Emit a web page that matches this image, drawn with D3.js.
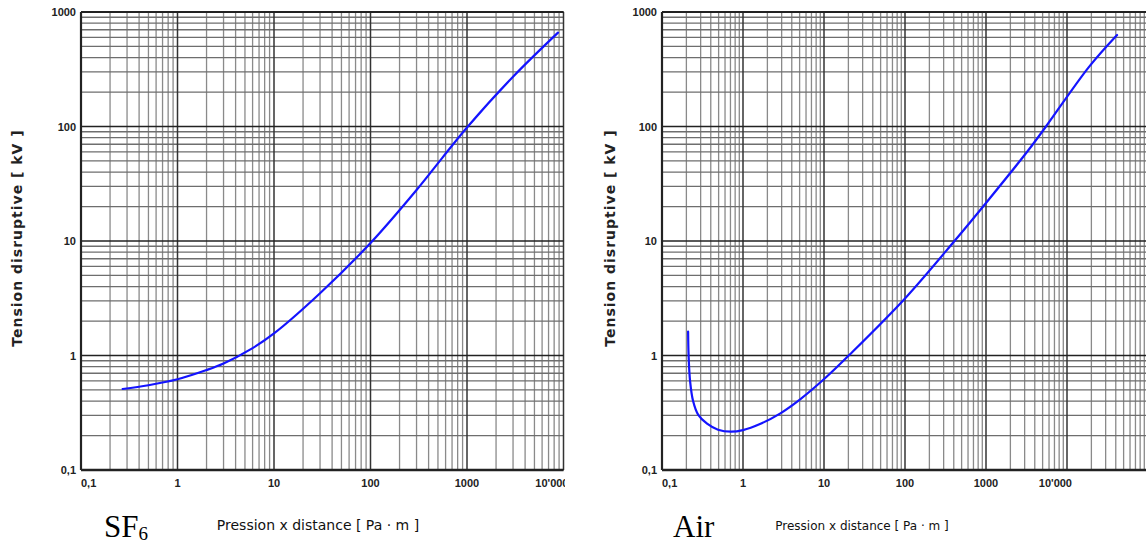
<!DOCTYPE html>
<html>
<head>
<meta charset="utf-8">
<script src="https://cdn.jsdelivr.net/npm/d3@7"></script>
<style>
  body { margin: 0; background: #fff; }
  svg { display: block; }
</style>
</head>
<body>
<div id="chart"></div>
<script>
// Paschen curves (x: Pa·m, y: kV)
const sf6X = [0.27, 0.5, 1, 2, 3, 5.7, 10, 30, 100, 300, 552, 1000, 3000, 8770];
const sf6V = [0.51, 0.55, 0.62, 0.746, 0.851, 1.13, 1.56, 3.5, 9.6, 27.9, 53, 98, 272, 660];

const airX = [0.21, 0.213, 0.222, 0.242, 0.279, 0.36, 0.492, 0.711, 1, 1.62, 2.86, 5.03, 10.2, 20.8, 102, 408, 1000, 3330, 5500, 18700, 41500];
const airV = [1.62, 1.0, 0.60, 0.40, 0.305, 0.254, 0.225, 0.216, 0.223, 0.252, 0.311, 0.412, 0.629, 1.02, 3.2, 10, 21.5, 62, 100, 332, 630];

const xTickValues = [0.1, 1, 10, 100, 1000, 10000];
const xTickLabels = ["0,1", "1", "10", "100", "1000", "10'000"];
const yTickValues = [0.1, 1, 10, 100, 1000];
const yTickLabels = ["0,1", "1", "10", "100", "1000"];

const W = 1146, H = 546;
const svg = d3.select("#chart").append("svg").attr("width", W).attr("height", H);

svg.append("defs").append("clipPath").attr("id", "clipLeft")
  .append("rect").attr("x", 0).attr("y", 0).attr("width", 565).attr("height", H);

const panels = [
  { x0: 81, x1: 563.5, xmax: 1e4, xs: sf6X, vs: sf6V, name: "SF", sub: "6", nameX: 104,
    yLabelX: 22, xLabelX: 318, xLabelSize: 14, clip: "url(#clipLeft)" },
  { x0: 662, x1: 1148, xmax: 1e5, xs: airX, vs: airV, name: "Air", sub: null, nameX: 673,
    yLabelX: 615, xLabelX: 862, xLabelSize: 12, clip: null }
];

const y = d3.scaleLog().domain([0.1, 1000]).range([470, 12]);
const isMajor = v => Math.abs(Math.log10(v) - Math.round(Math.log10(v))) < 1e-9;

panels.forEach(p => {
  const x = d3.scaleLog().domain([0.1, p.xmax]).range([p.x0, p.x1]);
  const g = svg.append("g");

  // minor grid first, majors on top
  const xs = x.ticks(), ys = y.ticks();
  const grid = g.append("g");
  grid.selectAll("line.vx").data(xs.filter(v => !isMajor(v))).enter().append("line")
    .attr("x1", d => x(d)).attr("x2", d => x(d)).attr("y1", y(1000)).attr("y2", y(0.1))
    .attr("stroke", "#8a8a8a").attr("stroke-width", 1.3);
  grid.selectAll("line.hy").data(ys.filter(v => !isMajor(v))).enter().append("line")
    .attr("x1", p.x0).attr("x2", p.x1).attr("y1", d => y(d)).attr("y2", d => y(d))
    .attr("stroke", "#6e6e6e").attr("stroke-width", 1.3);
  grid.selectAll("line.vmaj").data(xs.filter(isMajor)).enter().append("line")
    .attr("x1", d => x(d)).attr("x2", d => x(d)).attr("y1", y(1000)).attr("y2", y(0.1))
    .attr("stroke", "#333").attr("stroke-width", 1.5);
  grid.selectAll("line.hmaj").data(ys.filter(isMajor)).enter().append("line")
    .attr("x1", p.x0).attr("x2", p.x1).attr("y1", d => y(d)).attr("y2", d => y(d))
    .attr("stroke", "#222").attr("stroke-width", 1.5);

  // frame: left and bottom heavier
  g.append("line").attr("x1", p.x0).attr("x2", p.x0).attr("y1", y(1000)).attr("y2", y(0.1))
    .attr("stroke", "#222").attr("stroke-width", 2.2);
  g.append("line").attr("x1", p.x0).attr("x2", p.x1).attr("y1", y(0.1)).attr("y2", y(0.1))
    .attr("stroke", "#222").attr("stroke-width", 2.6);
  g.append("line").attr("x1", p.x0).attr("x2", p.x1).attr("y1", y(1000)).attr("y2", y(1000))
    .attr("stroke", "#222").attr("stroke-width", 2);

  // curve
  const line = d3.line().x(d => x(d[0])).y(d => y(d[1])).curve(d3.curveCatmullRom.alpha(0.5));
  g.append("path").datum(d3.zip(p.xs, p.vs)).attr("d", line)
    .attr("fill", "none").attr("stroke", "#1414ff").attr("stroke-width", 2.2)
    .attr("stroke-linecap", "round");

  // tick labels
  const tf = "'Liberation Sans', Arial, sans-serif";
  const last = xTickValues.length - 1;
  const xl = g.append("g").attr("clip-path", p.clip);
  xl.selectAll("text").data(xTickValues).enter().append("text")
    .attr("x", (d, i) => i === last ? x(d) + 5 : x(d))
    .attr("y", 487)
    .attr("text-anchor", (d, i) => i === 0 ? "start" : (i === last ? "end" : "middle"))
    .attr("font-family", tf).attr("font-size", 11).attr("font-weight", "bold").attr("fill", "#222")
    .text((d, i) => xTickLabels[i]);
  g.selectAll("text.yt").data(yTickValues).enter().append("text")
    .attr("x", p.x0 - 5).attr("y", d => y(d) + 4).attr("text-anchor", "end")
    .attr("font-family", tf).attr("font-size", 11).attr("font-weight", "bold").attr("fill", "#222")
    .text((d, i) => yTickLabels[i]);

  // axis titles
  g.append("text").attr("transform", `translate(${p.yLabelX},238) rotate(-90)`)
    .attr("text-anchor", "middle").attr("font-family", "'DejaVu Sans', sans-serif")
    .attr("font-size", 14).attr("font-weight", "bold").attr("letter-spacing", 1).attr("fill", "#222")
    .text("Tension disruptive  [ kV ]");
  g.append("text").attr("x", p.xLabelX).attr("y", 530).attr("text-anchor", "middle")
    .attr("font-family", "'DejaVu Sans', sans-serif").attr("font-size", p.xLabelSize)
    .attr("fill", "#111").text("Pression x distance  [ Pa \u00b7 m ]");

  // gas name
  const nm = g.append("text").attr("x", p.nameX).attr("y", 537)
    .attr("font-family", "'Liberation Serif', 'Times New Roman', serif").attr("font-size", 31).attr("fill", "#000")
    .text(p.name);
  if (p.sub) nm.append("tspan").attr("font-size", 19).attr("dy", 3).text(p.sub);
});
</script>
</body>
</html>
